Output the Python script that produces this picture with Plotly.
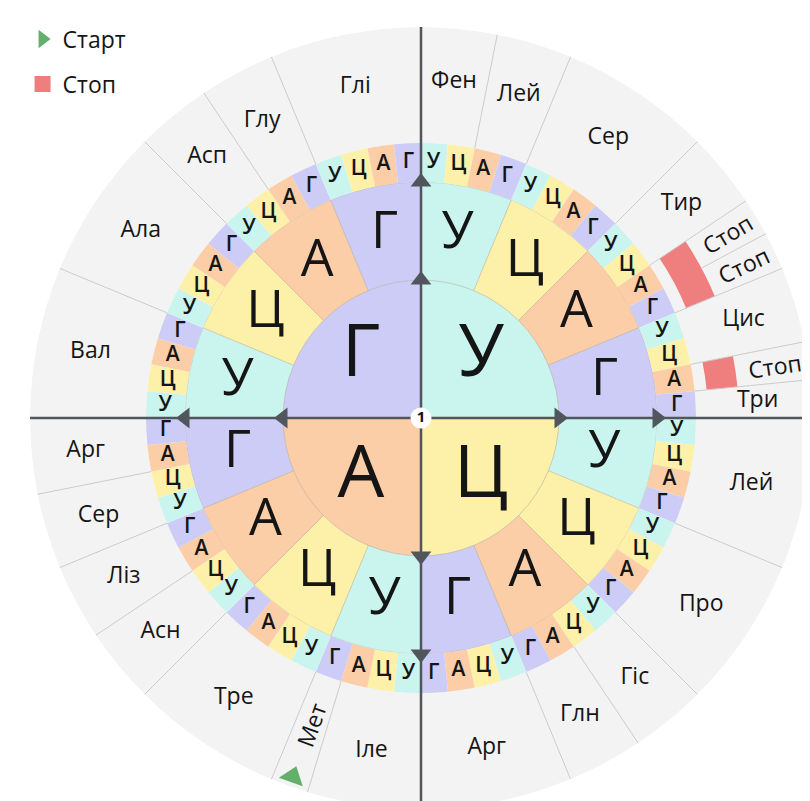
import math
import plotly.graph_objects as go

# ---------------- data ----------------
BASES = ["У", "Ц", "А", "Г"]
BASE_COLORS = ["#c9f5ee", "#fdf0a9", "#fbcea8", "#cdccf6"]

# amino-acid groups going clockwise from the top (size = number of codons)
GROUP_LABELS = ["Фен", "Лей", "Сер", "Тир", "Стоп", "Стоп", "Цис", "Стоп", "Три",
                "Лей", "Про", "Гіс", "Глн", "Арг",
                "Іле", "Мет", "Тре", "Асн", "Ліз", "Сер", "Арг",
                "Вал", "Ала", "Асп", "Глу", "Глі"]
GROUP_SIZES = [2, 2, 4, 2, 1, 1, 2, 1, 1,
               4, 4, 2, 2, 4,
               3, 1, 4, 2, 2, 2, 2,
               4, 4, 2, 2, 4]
START_LABEL = "Мет"
STOP_LABEL = "Стоп"
LEGEND_LABELS = ["Старт", "Стоп"]

# ---------------- geometry / style ----------------
R1, R2, R3, R4 = 138, 236, 275, 391
STOP_IN, STOP_OUT = 287, 318
RED = "#ef7e7e"
GREEN = "#63b06c"
AXIS = "#50565c"
TXT = "#151515"
FONT = "Open Sans"
W, H = 810, 801
CX, CY = 413, 410  # centre in pixels (from top-left)

n1, n2, n3 = 4, 16, 64
w1, w2, w3 = 360 / n1, 360 / n2, 360 / n3

fig = go.Figure()

# outer grey ring
fig.add_trace(go.Barpolar(r=[R4 - R3], base=[R3], theta=[180], width=[360],
                          marker=dict(color="#f3f3f3", line=dict(width=0)),
                          showlegend=False, hoverinfo="skip"))

# group boundaries
starts = []
acc = 0
for s in GROUP_SIZES:
    starts.append(acc)
    acc += s

cell_line = dict(color="rgba(170,160,140,0.35)", width=1)
# ring 1 (first base)
fig.add_trace(go.Barpolar(
    r=[R1] * n1, base=[0] * n1,
    theta=[(i + 0.5) * w1 for i in range(n1)], width=[w1] * n1,
    marker=dict(color=BASE_COLORS, line=cell_line), showlegend=False, hoverinfo="skip"))
# ring 2 (second base)
fig.add_trace(go.Barpolar(
    r=[R2 - R1] * n2, base=[R1] * n2,
    theta=[(i + 0.5) * w2 for i in range(n2)], width=[w2] * n2,
    marker=dict(color=[BASE_COLORS[i % 4] for i in range(n2)], line=cell_line),
    showlegend=False, hoverinfo="skip"))
# ring 3 (third base)
fig.add_trace(go.Barpolar(
    r=[R3 - R2] * n3, base=[R2] * n3,
    theta=[(i + 0.5) * w3 for i in range(n3)], width=[w3] * n3,
    marker=dict(color=[BASE_COLORS[i % 4] for i in range(n3)], line=dict(width=0)),
    showlegend=False, hoverinfo="skip"))

# separator lines in the outer ring (not through a merged stop block)
sep_r, sep_t = [], []
for k, st in enumerate(starts):
    inner = R3
    if k > 0 and GROUP_LABELS[k] == STOP_LABEL and GROUP_LABELS[k - 1] == STOP_LABEL:
        inner = STOP_OUT
    sep_r += [inner, R4, None]
    sep_t += [st * w3, st * w3, None]
fig.add_trace(go.Scatterpolar(r=sep_r, theta=sep_t, mode="lines",
                              line=dict(color="#cbcbcb", width=1),
                              showlegend=False, hoverinfo="skip"))

# stop blocks (contiguous stop codons merged into one block)
stop_spans = []
for lab, st, sz in zip(GROUP_LABELS, starts, GROUP_SIZES):
    if lab == STOP_LABEL:
        if stop_spans and stop_spans[-1][1] == st:
            stop_spans[-1][1] = st + sz
        else:
            stop_spans.append([st, st + sz])
fig.add_trace(go.Barpolar(r=[STOP_OUT - STOP_IN] * len(stop_spans),
                          base=[STOP_IN] * len(stop_spans),
                          theta=[(a + b) / 2 * w3 for a, b in stop_spans],
                          width=[(b - a) * w3 for a, b in stop_spans],
                          marker=dict(color=RED, line=dict(width=0)),
                          showlegend=False, hoverinfo="skip"))

# main axes through centre
fig.add_trace(go.Scatterpolar(r=[R4, 0, R4, None, R4, 0, R4],
                              theta=[0, 0, 180, None, 90, 90, 270], mode="lines",
                              line=dict(color=AXIS, width=2.5),
                              showlegend=False, hoverinfo="skip"))
# arrow heads
arrow_syms = ["triangle-up", "triangle-right", "triangle-down", "triangle-left"]
for k, sym in enumerate(arrow_syms):
    fig.add_trace(go.Scatterpolar(r=[R1, R2], theta=[k * 90, k * 90], mode="markers",
                                  marker=dict(symbol=sym, size=18, color=AXIS),
                                  showlegend=False, hoverinfo="skip"))

# letters
fig.add_trace(go.Scatterpolar(
    r=[85] * n1, theta=[(i + 0.5) * w1 for i in range(n1)], mode="text",
    text=BASES, textfont=dict(family=FONT, size=74, color=TXT),
    showlegend=False, hoverinfo="skip"))
fig.add_trace(go.Scatterpolar(
    r=[187] * n2, theta=[(i + 0.5) * w2 for i in range(n2)], mode="text",
    text=[BASES[i % 4] for i in range(n2)], textfont=dict(family=FONT, size=52, color=TXT),
    showlegend=False, hoverinfo="skip"))
fig.add_trace(go.Scatterpolar(
    r=[256] * n3, theta=[(i + 0.5) * w3 for i in range(n3)], mode="text",
    text=[BASES[i % 4] for i in range(n3)],
    textfont=dict(family=FONT, size=21, color=TXT, weight=600),
    showlegend=False, hoverinfo="skip"))

# amino acid labels (horizontal ones)
lab_r, lab_t, lab_txt = [], [], []
for lab, st, sz in zip(GROUP_LABELS, starts, GROUP_SIZES):
    if lab in (STOP_LABEL, START_LABEL):
        continue
    lab_r.append(337)
    lab_t.append((st + sz / 2) * w3)
    lab_txt.append(lab)
fig.add_trace(go.Scatterpolar(r=lab_r, theta=lab_t, mode="text", text=lab_txt,
                              textfont=dict(family=FONT, size=23, color=TXT),
                              showlegend=False, hoverinfo="skip"))

# start marker
met_idx = GROUP_LABELS.index(START_LABEL)
met_theta = (starts[met_idx] + 0.5) * w3
fig.add_trace(go.Scatterpolar(r=[381], theta=[met_theta], mode="markers",
                              marker=dict(symbol="triangle-up", size=22, color=GREEN,
                                          angle=met_theta - 180),
                              showlegend=False, hoverinfo="skip"))

# centre "1"
fig.add_trace(go.Scatterpolar(r=[0], theta=[0], mode="markers+text", text=["1"],
                              textposition="middle center",
                              textfont=dict(family=FONT, size=15, color="#111", weight=700),
                              marker=dict(size=21, color="white", line=dict(width=0)),
                              showlegend=False, hoverinfo="skip"))

# legend-only entries
fig.add_trace(go.Scatterpolar(r=[None], theta=[None], mode="markers", name=LEGEND_LABELS[0],
                              marker=dict(symbol="triangle-right", size=16, color=GREEN),
                              legendgroup="a"))
fig.add_trace(go.Scatterpolar(r=[None], theta=[None], mode="markers", name=LEGEND_LABELS[1],
                              marker=dict(symbol="square", size=16, color=RED),
                              legendgroup="b"))

# rotated labels via annotations on an invisible cartesian frame aligned with the polar one
annots = []
for lab, st, sz in zip(GROUP_LABELS, starts, GROUP_SIZES):
    th = (st + sz / 2) * w3
    if lab == STOP_LABEL:
        rr, ang = 357, th - 90
    elif lab == START_LABEL:
        rr, ang = 326, th - 270
    else:
        continue
    a = math.radians(th)
    annots.append(dict(x=rr * math.sin(a), y=rr * math.cos(a), xref="x", yref="y",
                       text=lab, showarrow=False, textangle=ang,
                       font=dict(family=FONT, size=23, color=TXT)))

dom_x = [(CX - R4) / W, (CX + R4) / W]
dom_y = [(H - CY - R4) / H, (H - CY + R4) / H]
dom_y = [max(0, dom_y[0]), min(1, dom_y[1])]

fig.update_layout(
    width=W, height=H,
    margin=dict(l=0, r=0, t=0, b=0),
    paper_bgcolor="white", plot_bgcolor="rgba(0,0,0,0)",
    polar=dict(
        domain=dict(x=dom_x, y=dom_y),
        bgcolor="rgba(0,0,0,0)",
        barmode="overlay", bargap=0,
        radialaxis=dict(visible=False, range=[0, R4]),
        angularaxis=dict(visible=False, direction="clockwise", rotation=90,
                         showgrid=False, showline=False, ticks=""),
    ),
    xaxis=dict(domain=dom_x, range=[-R4, R4], visible=False, fixedrange=True),
    yaxis=dict(domain=dom_y, range=[-R4, R4], visible=False, fixedrange=True),
    annotations=annots,
    showlegend=True,
    legend=dict(x=0.018, y=0.988, xanchor="left", yanchor="top",
                font=dict(family=FONT, size=23, color=TXT),
                bgcolor="rgba(0,0,0,0)", traceorder="grouped", tracegroupgap=12),
    font=dict(family=FONT),
)

fig.write_html("out.html")
